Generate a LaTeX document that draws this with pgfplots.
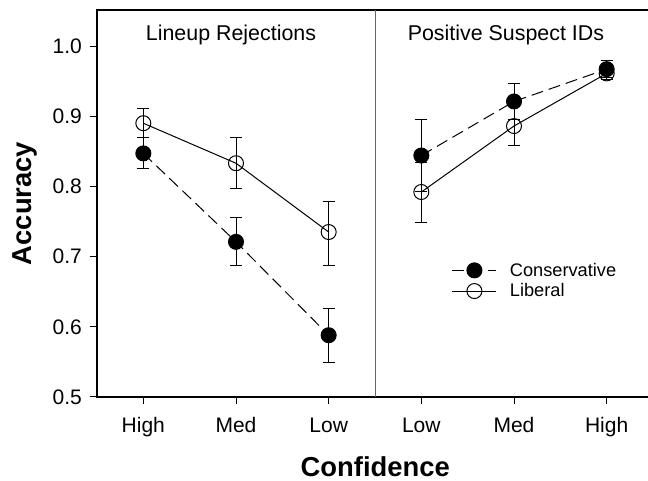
\documentclass[border=0pt]{standalone}
\usepackage{fontspec}
\setmainfont{Liberation Sans}
\usepackage{pgfplots}
\pgfplotsset{compat=1.18}

\begin{document}
\begin{tikzpicture}
% page box: the figure is cut off a few px before the right spine
\useasboundingbox (-97pt,-84pt) rectangle (551pt,397pt);
\begin{axis}[
  at={(0,0)}, anchor=south west,
  scale only axis, width=556pt, height=387pt,
  xmin=-0.5, xmax=5.5, ymin=0.5, ymax=1.0513,
  xtick={0,1,2,3,4,5},
  xticklabels={High,Med,Low,Low,Med,High},
  ytick={0.5,0.6,0.7,0.8,0.9,1.0},
  /pgf/number format/fixed, /pgf/number format/fixed zerofill,
  /pgf/number format/precision=1, /pgf/number format/assume math mode=true,
  tick label style={font=\fontsize{21}{25}\selectfont, inner sep=0pt},
  xticklabel style={anchor=base, yshift=-29pt},
  yticklabel style={anchor=east, xshift=-8pt},
  tick pos=left, tick align=outside, major tick length=7pt,
  tick style={black, line width=1pt},
  axis line style={black, line width=1.2pt},
  legend style={at={(rel axis cs:0.638,0.3005)}, anchor=west, draw=none, fill=none,
    inner sep=0pt, font=\fontsize{18.2}{20}\selectfont, column sep=11pt, row sep=2pt},
  legend cell align=left,
  legend image code/.code={\draw[mark repeat=2, mark phase=2] plot coordinates {(0pt,0pt) (22pt,0pt) (44pt,0pt)};},
  every axis plot/.append style={black, line width=1pt},
]
\draw[black!60, line width=1pt] (axis cs:2.5,0.5) -- (axis cs:2.5,1.0513);

% Lineup rejections: High, Med, Low
\addplot[dash pattern=on 12pt off 6pt, mark=*, mark size=7.5pt, mark options={solid, fill=black},
  error bars/.cd, y dir=both, y explicit, error bar style={solid, line width=1pt},
  error mark options={rotate=90, mark size=6pt, line width=1pt}]
  coordinates {
  (0,0.847) += (0,0.023) -= (0,0.022)
  (1,0.721) += (0,0.035) -= (0,0.034)
  (2,0.588) += (0,0.038) -= (0,0.039)
  };
\addlegendentry{Conservative}
\addplot[mark=o, mark size=7.5pt,
  error bars/.cd, y dir=both, y explicit, error bar style={line width=1pt},
  error mark options={rotate=90, mark size=6pt, line width=1pt}]
  coordinates {
  (0,0.890) += (0,0.021) -= (0,0.020)
  (1,0.833) += (0,0.037) -= (0,0.036)
  (2,0.735) += (0,0.044) -= (0,0.047)
  };
\addlegendentry{Liberal}

% Positive suspect IDs: Low, Med, High
\addplot[forget plot, mark=o, mark size=7.5pt,
  error bars/.cd, y dir=both, y explicit, error bar style={line width=1pt},
  error mark options={rotate=90, mark size=6pt, line width=1pt}]
  coordinates {
  (3,0.792) += (0,0.042) -= (0,0.044)
  (4,0.886) += (0,0.030) -= (0,0.028)
  (5,0.961) += (0,0.010) -= (0,0.009)
  };
\addplot[forget plot, dash pattern=on 12pt off 6pt, mark=*, mark size=7.5pt, mark options={solid, fill=black},
  error bars/.cd, y dir=both, y explicit, error bar style={solid, line width=1pt},
  error mark options={rotate=90, mark size=6pt, line width=1pt}]
  coordinates {
  (3,0.844) += (0,0.051) -= (0,0.051)
  (4,0.921) += (0,0.026) -= (0,0.026)
  (5,0.967) += (0,0.012) -= (0,0.012)
  };

\node[anchor=base, font=\fontsize{21.4}{24}\selectfont] at (axis cs:0.946,1.0085) {Lineup Rejections};
\node[anchor=base, font=\fontsize{21.4}{24}\selectfont] at (axis cs:3.913,1.0085) {Positive Suspect IDs};
\end{axis}
\node[anchor=base, font=\fontsize{27.4}{30}\selectfont\bfseries] at (278.3pt,-79.3pt) {Confidence};
\node[rotate=90, anchor=base, font=\fontsize{27.4}{30}\selectfont\bfseries] at (-65.4pt,193.5pt) {Accuracy};
\end{tikzpicture}
\end{document}
